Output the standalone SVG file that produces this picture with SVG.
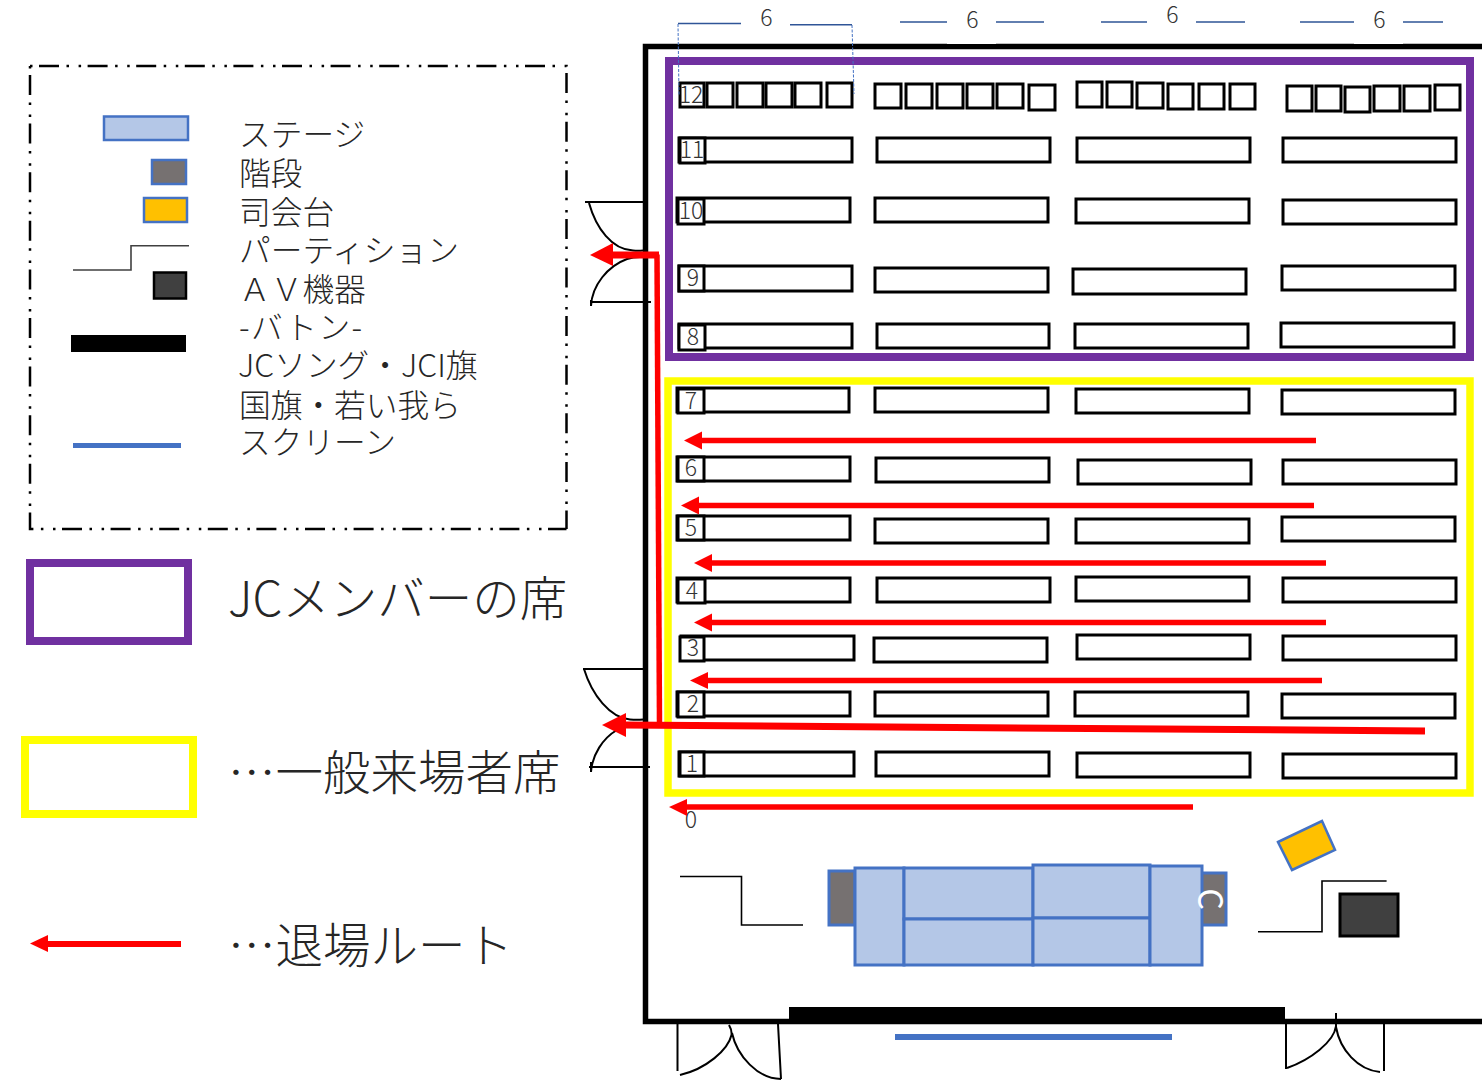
<svg xmlns="http://www.w3.org/2000/svg" width="1482" height="1081" viewBox="0 0 1482 1081">
<style>
text{font-family:"Noto Sans CJK JP","Noto Sans",sans-serif;font-weight:300;fill:#262626}
.lg{font-size:31.700px}.big{font-size:47.500px}.num{font-size:23px;text-anchor:middle;fill:#333}
.seat{fill:#fff;stroke:#000;stroke-width:3}
.stage{fill:#b4c7e7;stroke:#4472c4;stroke-width:3}
.stair{fill:#767171;stroke:#4472c4;stroke-width:3}
.mc{fill:#ffc000;stroke:#4472c4;stroke-width:2.500}
.av{fill:#404040;stroke:#000;stroke-width:3}
.thin{fill:none;stroke:#000;stroke-width:1.600}
.door{fill:none;stroke:#000;stroke-width:2}
.dim{fill:none;stroke:#2f5597;stroke-width:1.500}
.dash{fill:none;stroke:#4472c4;stroke-width:1;stroke-dasharray:3 1.500}
.route{fill:none;stroke:#f00;stroke-width:5.500}
.head{fill:#f00}
.box{fill:none;stroke:#000;stroke-width:2.500;stroke-dasharray:2.500 6.500 20 7.500 2.500 9.600}
</style>
<g id="legend">
<path class="box" d="M30,66H566.500V529"/>
<path class="box" d="M30,66V529H566.500"/>
<g id="legend-stage"><rect class="stage" x="104" y="116.500" width="84" height="23.500" style="stroke-width:2.500"/><text class="lg" x="239" y="145.500">ステージ</text></g>
<g id="legend-stairs"><rect class="stair" x="152" y="160" width="34" height="24" style="stroke-width:2.500"/><text class="lg" x="239" y="185">階段</text></g>
<g id="legend-mc"><rect class="mc" x="144" y="198" width="43" height="24"/><text class="lg" x="239" y="224">司会台</text></g>
<g id="legend-partition"><path class="thin" style="stroke:#404040" d="M73,270H131V245.700H189"/><text class="lg" x="239" y="262">パーティション</text></g>
<g id="legend-av"><rect class="av" x="154" y="272.500" width="32" height="26" style="stroke-width:2.500"/><text class="lg" x="239" y="301">ＡＶ機器</text></g>
<g id="legend-baton"><rect x="71" y="335" width="115" height="17" fill="#000"/><text class="lg" x="239" y="339" letter-spacing="1.500">-バトン-</text></g>
<g id="legend-flags"><text class="lg" x="238" y="377">JCソング・JCI旗</text><text class="lg" x="239" y="417">国旗・若い我ら</text></g>
<g id="legend-screen"><rect x="73" y="443" width="108" height="5" fill="#4472c4"/><text class="lg" x="239" y="454">スクリーン</text></g>
</g>
<g id="key-member"><rect x="30" y="563" width="158" height="78" fill="none" stroke="#7030a0" stroke-width="8"/><text class="big" x="228" y="616">JCメンバーの席</text></g>
<g id="key-general"><rect x="25" y="740" width="168" height="74" fill="none" stroke="#ff0" stroke-width="8"/><text class="big" x="228" y="790">…一般来場者席</text></g>
<g id="key-route"><rect x="48" y="941" width="133" height="6" fill="#f00"/><polygon class="head" points="30,943.500 48,935 48,952"/><text class="big" x="228" y="963">…退場ルート</text></g>
<g id="hall">
<path d="M1482,46.500H645.500V1021.500H1482" fill="none" stroke="#000" stroke-width="5.500"/>
<rect x="947" y="42" width="49" height="2" fill="#fff"/><rect x="1354" y="42" width="49" height="2" fill="#fff"/>
<rect id="baton" x="789" y="1007" width="496" height="15" fill="#000"/>
<rect id="screen" x="895" y="1034" width="277" height="6" fill="#4472c4"/>
</g>
<g id="doors">
<path class="door" d="M585,202H643M589,203C596,228 612,250 633,250.500Q638,251 643,250.500"/>
<path class="door" d="M591,302H651M591,306C592,285 608,266 627,259Q633,257 640,257M591,300V306"/>
<path class="door" d="M583,669H643M584,669C592,695 610,718 630,719.500Q637,720 643,719.500"/>
<path class="door" d="M589,767H650M591,762V772M591,772C592,755 603,738 617,730"/>
<path class="door" d="M677.500,1024V1071M680,1075C706,1069 728,1050 731.500,1035Q732,1030 729,1025M732,1033C737,1056 758,1079 781,1079M778,1024L781,1079"/>
<path class="door" d="M1286,1024V1069M1287,1068C1310,1060 1334,1042 1336,1026M1336,1013V1030M1336,1027C1340,1050 1358,1070 1380,1072M1384,1024V1071"/>
</g>
<g id="zone-member"><rect x="669" y="61" width="801" height="296" fill="none" stroke="#7030a0" stroke-width="8"/></g>
<g id="zone-general"><rect x="668" y="381" width="802" height="412" fill="none" stroke="#ff0" stroke-width="7.500"/></g>
<g id="seats">
<g id="row-12">
<rect class="seat" x="680" y="83" width="24" height="24"/><rect class="seat" x="707" y="83" width="26" height="24"/><rect class="seat" x="737" y="83" width="26" height="24"/><rect class="seat" x="766" y="83" width="26" height="24"/><rect class="seat" x="795" y="83" width="26" height="24"/><rect class="seat" x="827" y="83" width="25" height="24"/>
<rect class="seat" x="875" y="84" width="26" height="24"/><rect class="seat" x="906" y="84" width="26" height="24"/><rect class="seat" x="937" y="84" width="26" height="24"/><rect class="seat" x="967" y="84" width="26" height="24"/><rect class="seat" x="997" y="84" width="26" height="24"/><rect class="seat" x="1029" y="85" width="26" height="25"/>
<rect class="seat" x="1077" y="82" width="25" height="25"/><rect class="seat" x="1107" y="82" width="25" height="25"/><rect class="seat" x="1137" y="83" width="26" height="25"/><rect class="seat" x="1168" y="84" width="25" height="25"/><rect class="seat" x="1199" y="84" width="25" height="25"/><rect class="seat" x="1230" y="84" width="25" height="25"/>
<rect class="seat" x="1287" y="86" width="25" height="25"/><rect class="seat" x="1316" y="86" width="25" height="25"/><rect class="seat" x="1345" y="87" width="25" height="25"/><rect class="seat" x="1374" y="86" width="26" height="25"/><rect class="seat" x="1404" y="86" width="26" height="25"/><rect class="seat" x="1435" y="85" width="25" height="25"/>
<path class="dash" d="M678,24L679,95M852,25L854,94"/>
<text class="num" x="691" y="103">12</text></g>
<g id="row-11"><rect class="seat" x="679" y="138" width="173" height="24"/><rect class="seat" x="877" y="138" width="173" height="24"/><rect class="seat" x="1077" y="138" width="173" height="24"/><rect class="seat" x="1283" y="138" width="173" height="24"/><rect class="seat" x="680" y="138" width="25" height="25"/><text class="num" x="692" y="158">11</text></g>
<g id="row-10"><rect class="seat" x="677" y="198" width="173" height="24"/><rect class="seat" x="875" y="198" width="173" height="24"/><rect class="seat" x="1076" y="199" width="173" height="24"/><rect class="seat" x="1283" y="200" width="173" height="24"/><rect class="seat" x="678" y="199" width="26" height="25"/><text class="num" x="691" y="219">10</text></g>
<g id="row-9"><rect class="seat" x="679" y="266" width="173" height="25"/><rect class="seat" x="875" y="268" width="173" height="24"/><rect class="seat" x="1073" y="269" width="173" height="25"/><rect class="seat" x="1282" y="266" width="173" height="24"/><rect class="seat" x="679" y="266" width="25" height="25"/><text class="num" x="693" y="286">9</text></g>
<g id="row-8"><rect class="seat" x="679" y="324" width="173" height="24"/><rect class="seat" x="877" y="324" width="172" height="24"/><rect class="seat" x="1075" y="324" width="173" height="24"/><rect class="seat" x="1281" y="323" width="173" height="24"/><rect class="seat" x="679" y="325" width="26" height="25"/><text class="num" x="693" y="345">8</text></g>
<g id="row-7"><rect class="seat" x="677" y="388" width="172" height="24"/><rect class="seat" x="875" y="388" width="173" height="24"/><rect class="seat" x="1076" y="389" width="173" height="24"/><rect class="seat" x="1282" y="390" width="173" height="24"/><rect class="seat" x="678" y="389" width="26" height="24"/><text class="num" x="691" y="409">7</text></g>
<g id="row-6"><rect class="seat" x="677" y="457" width="173" height="24"/><rect class="seat" x="876" y="458" width="173" height="24"/><rect class="seat" x="1078" y="460" width="173" height="24"/><rect class="seat" x="1283" y="460" width="173" height="24"/><rect class="seat" x="678" y="457" width="26" height="24"/><text class="num" x="691" y="476">6</text></g>
<g id="row-5"><rect class="seat" x="677" y="516" width="173" height="24"/><rect class="seat" x="875" y="519" width="173" height="24"/><rect class="seat" x="1076" y="519" width="173" height="24"/><rect class="seat" x="1282" y="517" width="173" height="24"/><rect class="seat" x="678" y="516" width="26" height="24"/><text class="num" x="691" y="536">5</text></g>
<g id="row-4"><rect class="seat" x="677" y="578" width="173" height="24"/><rect class="seat" x="877" y="578" width="173" height="24"/><rect class="seat" x="1076" y="577" width="173" height="24"/><rect class="seat" x="1283" y="578" width="173" height="24"/><rect class="seat" x="678" y="579" width="27" height="24"/><text class="num" x="692" y="599">4</text></g>
<g id="row-3"><rect class="seat" x="681" y="636" width="173" height="24"/><rect class="seat" x="874" y="638" width="173" height="24"/><rect class="seat" x="1077" y="635" width="173" height="24"/><rect class="seat" x="1283" y="636" width="173" height="24"/><rect class="seat" x="680" y="637" width="24" height="24"/><text class="num" x="693" y="656">3</text></g>
<g id="row-2"><rect class="seat" x="677" y="692" width="173" height="24"/><rect class="seat" x="875" y="692" width="173" height="24"/><rect class="seat" x="1075" y="692" width="173" height="24"/><rect class="seat" x="1282" y="694" width="173" height="24"/><rect class="seat" x="678" y="692" width="26" height="25"/><text class="num" x="693" y="712">2</text></g>
<g id="row-1"><rect class="seat" x="679" y="752" width="175" height="24"/><rect class="seat" x="876" y="752" width="173" height="24"/><rect class="seat" x="1077" y="753" width="173" height="24"/><rect class="seat" x="1283" y="754" width="173" height="24"/><rect class="seat" x="680" y="752" width="24" height="24"/><text class="num" x="692" y="772">1</text></g>
<text class="num" x="691" y="828">0</text>
</g>
<g id="dimensions">
<path class="dim" d="M678,23.500H741M790,24.700H852M900,22H947M996,22H1044M1101,22H1147M1196,22H1245M1300,22H1354M1403,22H1443"/>
<text class="num" x="766.500" y="26">6</text><text class="num" x="972.500" y="28">6</text><text class="num" x="1172.500" y="23">6</text><text class="num" x="1379.500" y="28">6</text>
</g>
<g id="stage-area">
<g id="stairs"><rect class="stair" x="829" y="871" width="26" height="54"/><rect class="stair" x="1201" y="873" width="25" height="52"/></g>
<g id="stage"><rect class="stage" x="855" y="868" width="49" height="97"/><rect class="stage" x="904" y="868" width="129" height="51"/><rect class="stage" x="904" y="919" width="129" height="46"/><rect class="stage" x="1033" y="865" width="117" height="53"/><rect class="stage" x="1033" y="918" width="117" height="47"/><rect class="stage" x="1150" y="866" width="52" height="99"/></g>
<text x="0" y="0" font-size="34" text-anchor="middle" style="fill:#fff;font-weight:400" transform="translate(1198,899) rotate(90)">C</text>
<polygon id="podium" class="mc" points="1278,842 1322,821 1335,850 1292,870"/>
<rect id="av" class="av" x="1340" y="894" width="58" height="42"/>
<path id="partition-left" class="thin" d="M680,876.500H741.500V925H803"/>
<path id="partition-right" class="thin" d="M1258,931.700H1322V881H1386.600"/>
</g>
<g id="connectors">
<path class="route" d="M1316,440.500H700M1314,505.500H697M1326,563H710M1326,622.500H710M1322,680.500H706M1193,807H685"/>
<path class="route" d="M657,254.500L659.500,725"/>
<path class="route" style="stroke-width:7" d="M612,255H659"/>
<path class="route" style="stroke-width:7" d="M624,725L1425,731"/>
<polygon class="head" points="684,440.500 702,431.500 702,449.500"/>
<polygon class="head" points="681,505.500 699,496.500 699,514.500"/>
<polygon class="head" points="694,563 712,554 712,572"/>
<polygon class="head" points="694,622.500 712,613.500 712,631.500"/>
<polygon class="head" points="690,680.500 708,672 708,689"/>
<polygon class="head" points="669,807 687,799 687,816"/>
<polygon class="head" points="590,255 613,243 613,266"/>
<polygon class="head" points="602,725 626,713 626,737"/>
</g>
</svg>
